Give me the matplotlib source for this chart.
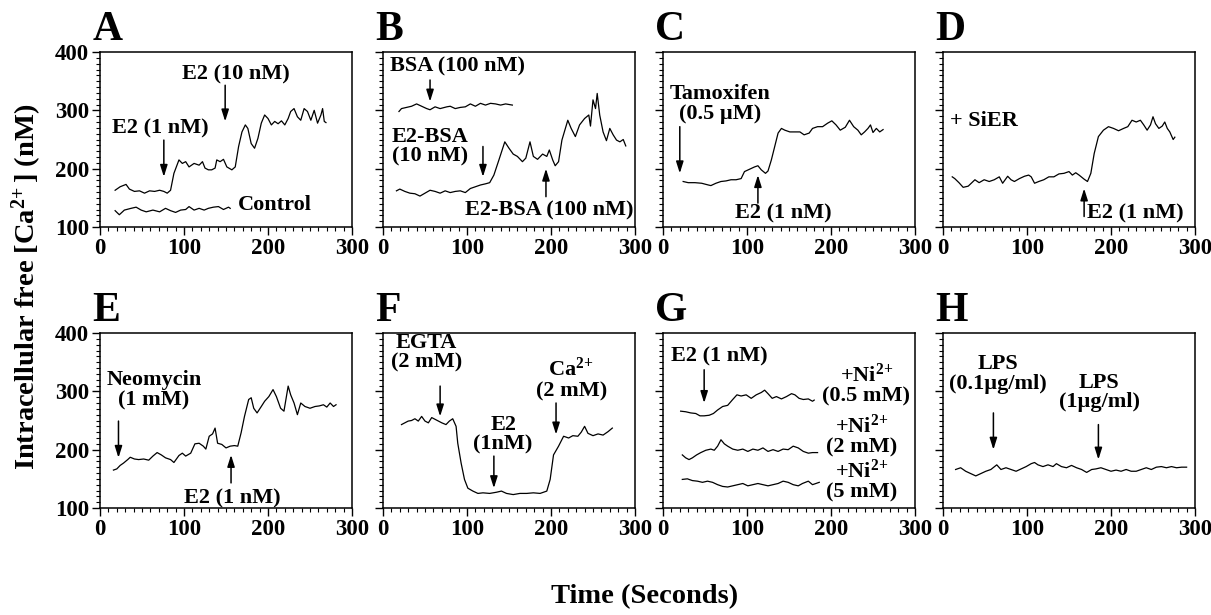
import matplotlib
matplotlib.use("Agg")
from matplotlib import pyplot as plt
from matplotlib.ticker import MultipleLocator

plt.rcParams["font.family"] = ["Liberation Serif", "DejaVu Serif"]
plt.rcParams["font.weight"] = "bold"
plt.rcParams["mathtext.fontset"] = "custom"
plt.rcParams["mathtext.rm"] = "Liberation Serif:bold"
plt.rcParams["mathtext.it"] = "Liberation Serif:bold"
plt.rcParams["mathtext.bf"] = "Liberation Serif:bold"

# ---- data (time in s, [Ca2+] in nM) ----
a_t = [18, 24, 31, 35, 41, 47, 53, 59, 65, 71, 76, 80, 84, 88, 94, 98, 102, 106, 112, 118,
       122, 125, 129, 133, 137, 139, 143, 147, 151, 157, 161, 165, 169, 173, 176, 180, 184,
       188, 192, 196, 200, 204, 208, 212, 216, 220, 224, 227, 231, 235, 239, 243, 247, 251,
       255, 259, 263, 265, 267, 269]
a_e2 = [163, 169, 173, 165, 161, 162, 158, 162, 161, 163, 161, 158, 163, 192, 215, 209, 212,
        203, 209, 206, 212, 201, 198, 198, 201, 215, 212, 216, 203, 198, 203, 238, 263, 275,
        269, 243, 235, 252, 278, 292, 286, 275, 281, 277, 282, 275, 286, 298, 303, 289, 283,
        303, 298, 283, 300, 278, 292, 303, 281, 279]
a_ctrl_t = [18, 23, 29, 37, 43, 49, 55, 63, 71, 78, 84, 90, 96, 102, 106, 112, 118, 124, 129,
            135, 141, 147, 153, 155]
a_ctrl = [128, 121, 129, 132, 134, 129, 126, 129, 126, 132, 128, 125, 129, 130, 135, 129, 132,
          129, 132, 134, 135, 130, 134, 132]

b_bsa_t = [19, 22, 28, 34, 40, 46, 52, 56, 62, 68, 76, 80, 86, 92, 98, 104, 110, 116, 122, 128,
           134, 140, 146, 154]
b_bsa = [298, 303, 305, 307, 311, 307, 303, 301, 306, 303, 306, 307, 303, 305, 306, 311, 307,
         312, 309, 312, 311, 309, 311, 309]
b_e2_t = [16, 20, 26, 32, 38, 44, 50, 56, 62, 68, 74, 80, 86, 92, 98, 104, 110, 116, 122, 127,
          132, 138, 145, 150, 155, 160, 166, 170, 175, 179, 184, 190, 195, 198, 202, 205, 209,
          213, 220, 224, 229, 234, 240, 245, 247, 250, 253, 255, 258, 262, 266, 270, 274, 278,
          282, 286, 289]
b_e2 = [162, 165, 161, 158, 157, 153, 158, 163, 161, 158, 162, 159, 161, 162, 159, 166, 169,
        172, 174, 176, 189, 215, 246, 235, 225, 221, 212, 218, 246, 221, 216, 225, 221, 232,
        215, 205, 212, 249, 283, 269, 255, 275, 286, 292, 273, 318, 303, 329, 292, 263, 248,
        269, 258, 249, 246, 250, 239]

c_t = [24, 30, 38, 46, 54, 57, 63, 69, 75, 81, 87, 93, 97, 103, 109, 113, 117, 122, 125, 129,
       133, 137, 141, 145, 151, 157, 163, 168, 174, 178, 184, 190, 196, 201, 206, 211, 217,
       222, 227, 232, 236, 240, 244, 247, 250, 254, 258, 262]
c_v = [178, 176, 176, 175, 172, 171, 175, 178, 179, 181, 181, 183, 195, 199, 203, 205, 198,
       192, 196, 215, 238, 261, 269, 266, 263, 263, 263, 258, 261, 269, 272, 272, 278, 282,
       275, 266, 271, 283, 272, 266, 258, 263, 269, 275, 262, 269, 263, 267]

d_t = [11, 14, 19, 24, 30, 38, 43, 49, 55, 61, 67, 71, 77, 81, 85, 91, 97, 102, 105, 109, 114,
       120, 126, 132, 138, 144, 150, 154, 158, 162, 168, 172, 176, 180, 185, 191, 197, 203,
       209, 215, 220, 225, 230, 235, 239, 243, 247, 250, 253, 257, 261, 264, 267, 270, 274, 276]
d_v = [186, 183, 176, 168, 170, 181, 176, 181, 178, 181, 186, 175, 187, 181, 178, 183, 187,
       189, 186, 175, 178, 181, 186, 186, 191, 192, 195, 189, 193, 189, 182, 178, 192, 226,
       255, 266, 272, 269, 265, 269, 272, 283, 280, 283, 275, 266, 275, 289, 277, 269, 273,
       280, 269, 263, 250, 254]

e_t = [16, 20, 24, 28, 33, 36, 41, 46, 52, 58, 63, 68, 73, 78, 84, 88, 94, 98, 102, 108, 113,
       118, 123, 126, 130, 134, 137, 140, 145, 150, 155, 160, 164, 168, 172, 177, 180, 183,
       187, 192, 196, 201, 206, 210, 215, 219, 224, 227, 231, 235, 239, 244, 250, 256, 261,
       266, 270, 274, 278, 281]
e_v = [165, 167, 173, 177, 183, 187, 184, 183, 184, 182, 189, 195, 191, 186, 183, 178, 190,
       194, 189, 194, 210, 211, 206, 201, 223, 227, 237, 211, 209, 203, 206, 207, 206, 229,
       257, 286, 289, 271, 263, 274, 283, 291, 303, 291, 271, 266, 309, 294, 280, 260, 280,
       274, 271, 274, 275, 277, 273, 280, 274, 277]

f_t = [22, 26, 30, 34, 38, 42, 46, 50, 54, 58, 62, 66, 70, 75, 79, 83, 87, 89, 93, 97, 101,
       107, 113, 119, 127, 135, 141, 147, 155, 163, 171, 179, 187, 195, 199, 203, 209, 215,
       221, 226, 232, 236, 240, 244, 250, 256, 262, 268, 273]
f_v = [243, 246, 249, 250, 253, 249, 257, 249, 246, 255, 252, 249, 246, 243, 249, 253, 240,
       211, 177, 149, 134, 129, 125, 126, 125, 127, 129, 125, 123, 125, 125, 126, 125, 129,
       149, 191, 206, 223, 220, 224, 223, 230, 240, 228, 224, 227, 225, 231, 237]

g1_t = [21, 27, 33, 39, 44, 49, 55, 60, 65, 71, 77, 83, 88, 93, 99, 105, 111, 117, 121, 125,
        130, 135, 141, 147, 153, 157, 162, 167, 173, 178, 180]
g1_v = [266, 265, 263, 262, 258, 258, 259, 262, 268, 274, 276, 286, 294, 292, 294, 288, 294,
        298, 302, 296, 288, 291, 287, 291, 296, 294, 288, 286, 287, 283, 285]
g2_t = [23, 27, 31, 35, 40, 45, 51, 57, 61, 65, 69, 73, 77, 83, 89, 95, 101, 107, 113, 119,
        125, 131, 137, 143, 149, 155, 161, 167, 173, 178, 184]
g2_v = [191, 186, 183, 186, 191, 195, 199, 201, 199, 206, 217, 210, 206, 201, 199, 201, 197,
        201, 199, 203, 197, 200, 197, 201, 200, 206, 203, 197, 194, 195, 195]
g3_t = [23, 29, 35, 41, 47, 53, 59, 65, 71, 77, 83, 89, 95, 101, 107, 113, 119, 125, 131, 137,
        143, 149, 155, 161, 166, 173, 178, 186]
g3_v = [149, 150, 147, 146, 144, 146, 144, 140, 137, 136, 138, 140, 142, 138, 140, 142, 140,
        138, 140, 142, 146, 144, 140, 138, 142, 146, 140, 144]

h_t = [15, 21, 27, 33, 39, 45, 51, 57, 64, 69, 75, 81, 87, 93, 99, 105, 109, 113, 119, 125,
       131, 135, 141, 147, 153, 159, 165, 171, 177, 182, 188, 194, 200, 206, 212, 218, 224,
       230, 236, 242, 248, 254, 260, 266, 272, 278, 284, 290]
h_v = [166, 169, 163, 159, 155, 159, 163, 166, 174, 166, 169, 166, 163, 167, 171, 176, 178,
       174, 171, 174, 171, 176, 171, 169, 173, 169, 166, 161, 166, 167, 169, 166, 163, 165,
       163, 166, 163, 163, 166, 169, 166, 170, 171, 169, 171, 169, 170, 170]

x_ticks = [0, 100, 200, 300]
y_ticks = [100, 200, 300, 400]
letters = ["A", "B", "C", "D", "E", "F", "G", "H"]

W, H = 1211, 615
lefts = [100, 383, 663, 943]
fig = plt.figure(figsize=(W / 100, H / 100), dpi=100)
axes = []
for r, top in enumerate([52, 333]):
    for c, left in enumerate(lefts):
        ax = fig.add_axes([left / W, 1 - (top + 175) / H, 252 / W, 175 / H])
        axes.append(ax)

FS = 16
arrow = dict(arrowstyle="-|>,head_length=0.7,head_width=0.22", color="k", lw=1.1,
             shrinkA=0, shrinkB=0)


def style(ax, letter, ylabels):
    ax.set_xlim(0, 300)
    ax.set_ylim(100, 400)
    ax.set_xticks(x_ticks)
    ax.set_yticks(y_ticks)
    ax.xaxis.set_minor_locator(MultipleLocator(10))
    ax.yaxis.set_minor_locator(MultipleLocator(10))
    ax.tick_params(which="major", direction="out", length=6, width=1, labelsize=16.5, pad=2)
    ax.tick_params(which="minor", direction="out", length=3, width=0.8)
    if not ylabels:
        ax.set_yticklabels([])
    for lab in ax.get_xticklabels() + ax.get_yticklabels():
        lab.set_fontweight("bold")
    for s in ax.spines.values():
        s.set_linewidth(1.1)
    ax.text(-0.03, 1.07, letter, transform=ax.transAxes, fontsize=30, fontweight="bold",
            va="baseline", ha="left")


def arr(ax, t, v0, v1):
    ax.annotate("", xy=(t, v1), xytext=(t, v0), arrowprops=arrow)


def txt(ax, t, v, s, ha="center"):
    ax.text(t, v, s, fontsize=FS, fontweight="bold", ha=ha, va="center",
            multialignment="center", linespacing=1.0)


lw = 0.9
for ax, letter in zip(axes, letters):
    style(ax, letter, letter in ("A", "E"))

ax = axes[0]
ax.plot(a_t, a_e2, color="k", lw=lw)
ax.plot(a_ctrl_t, a_ctrl, color="k", lw=lw)
txt(ax, 72, 269, "E2 (1 nM)")
arr(ax, 76, 249, 186)
txt(ax, 162, 362, "E2 (10 nM)")
arr(ax, 149, 343, 281)
txt(ax, 164, 138, "Control", ha="left")

ax = axes[1]
ax.plot(b_bsa_t, b_bsa, color="k", lw=lw)
ax.plot(b_e2_t, b_e2, color="k", lw=lw)
txt(ax, 8, 375, "BSA (100 nM)", ha="left")
arr(ax, 56, 352, 315)
txt(ax, 10, 238, "E2-BSA\n(10 nM)", ha="left")
arr(ax, 119, 238, 186)
txt(ax, 298, 129, "E2-BSA (100 nM)", ha="right")
arr(ax, 194, 152, 200)

ax = axes[2]
ax.plot(c_t, c_v, color="k", lw=lw)
txt(ax, 8, 311, "Tamoxifen\n(0.5 \u00b5M)", ha="left")
arr(ax, 20, 272, 192)
txt(ax, 143, 123, "E2 (1 nM)")
arr(ax, 113, 141, 189)

ax = axes[3]
ax.plot(d_t, d_v, color="k", lw=lw)
txt(ax, 8, 281, "+ SiER", ha="left")
txt(ax, 172, 123, "E2 (1 nM)", ha="left")
arr(ax, 168, 118, 166)

ax = axes[4]
ax.plot(e_t, e_v, color="k", lw=lw)
txt(ax, 64, 302, "Neomycin\n(1 mM)")
arr(ax, 22, 249, 186)
txt(ax, 158, 117, "E2 (1 nM)")
arr(ax, 156, 143, 191)

ax = axes[5]
ax.plot(f_t, f_v, color="k", lw=lw)
txt(ax, 52, 366, "EGTA\n(2 mM)")
arr(ax, 68, 309, 257)
txt(ax, 143, 226, "E2\n(1nM)")
arr(ax, 132, 189, 134)
txt(ax, 224, 320, "Ca$^{2\\!+}$\n(2 mM)")
arr(ax, 206, 280, 226)

ax = axes[6]
ax.plot(g1_t, g1_v, color="k", lw=lw)
ax.plot(g2_t, g2_v, color="k", lw=lw)
ax.plot(g3_t, g3_v, color="k", lw=lw)
txt(ax, 10, 360, "E2 (1 nM)", ha="left")
arr(ax, 49, 337, 280)
txt(ax, 242, 311, "+Ni$^{2\\!+}$\n(0.5 mM)")
txt(ax, 237, 223, "+Ni$^{2\\!+}$\n(2 mM)")
txt(ax, 236, 146, "+Ni$^{2\\!+}$\n(5 mM)")

ax = axes[7]
ax.plot(h_t, h_v, color="k", lw=lw)
txt(ax, 65, 330, "LPS\n(0.1\u00b5g/ml)")
arr(ax, 60, 263, 200)
txt(ax, 186, 298, "LPS\n(1\u00b5g/ml)")
arr(ax, 185, 243, 183)

fig.text(645 / W, 1 - 603 / H, "Time (Seconds)", fontsize=20.5, fontweight="bold",
         ha="center", va="baseline")
fig.text(27 / W, 1 - 287 / H, "Intracellular free [Ca$^{2\\!+}$] (nM)", fontsize=20.5,
         fontweight="bold", rotation=90, ha="center", va="center")

fig.savefig("out.png", dpi=100)
